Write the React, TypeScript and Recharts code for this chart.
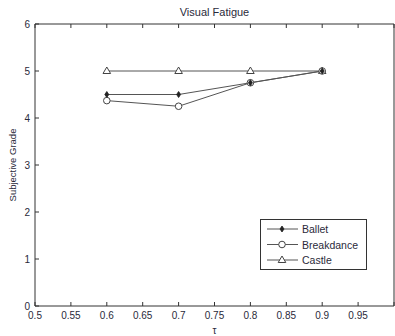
import React from "react";
import { LineChart, Line, XAxis, YAxis, Label } from "recharts";

const TAU = [0.6, 0.7, 0.8, 0.9];
const BALLET = [4.5, 4.5, 4.75, 5];
const BREAKDANCE = [4.37, 4.25, 4.75, 5];
const CASTLE = [5, 5, 5, 5];

const X_TICKS = [0.5, 0.55, 0.6, 0.65, 0.7, 0.75, 0.8, 0.85, 0.9, 0.95, 1];
const X_LABELS = ["0.5", "0.55", "0.6", "0.65", "0.7", "0.75", "0.8", "0.85", "0.9", "0.95", ""];
const Y_TICKS = [0, 1, 2, 3, 4, 5, 6];

const data = TAU.map((t, i) => ({
  tau: t,
  ballet: BALLET[i],
  breakdance: BREAKDANCE[i],
  castle: CASTLE[i],
}));

const FONT = "'Liberation Sans', Arial, sans-serif";
const TEXT = "#2a2a3a";
const AXIS = "#333";
const LINE = "#555";

const BottomTick = ({ x, y, payload }: any) => {
  const i = X_TICKS.indexOf(payload.value);
  return (
    <g>
      <line x1={x} y1={y} x2={x} y2={y - 4} stroke={AXIS} />
      <text x={x} y={y + 13} textAnchor="middle" fontSize={10} fill={TEXT} fontFamily={FONT}>
        {X_LABELS[i] ?? ""}
      </text>
    </g>
  );
};

const TopTick = ({ x, y }: any) => (
  <line x1={x} y1={y} x2={x} y2={y + 4} stroke={AXIS} />
);

const LeftTick = ({ x, y, payload }: any) => (
  <g>
    <line x1={x} y1={y} x2={x + 4} y2={y} stroke={AXIS} />
    <text x={x - 5} y={y + 4} textAnchor="end" fontSize={10} fill={TEXT} fontFamily={FONT}>
      {payload.value}
    </text>
  </g>
);

const RightTick = ({ x, y }: any) => (
  <line x1={x} y1={y} x2={x - 4} y2={y} stroke={AXIS} />
);

const Diamond = ({ cx, cy }: any) => {
  if (cx == null || cy == null) return null;
  return (
    <path
      d={`M${cx},${cy - 3}L${cx + 2},${cy}L${cx},${cy + 3}L${cx - 2},${cy}Z`}
      fill="#222"
      stroke="#222"
      strokeWidth={0.8}
    />
  );
};

const Circle = ({ cx, cy }: any) => {
  if (cx == null || cy == null) return null;
  return <circle cx={cx} cy={cy} r={3.3} fill="#fff" stroke="#444" strokeWidth={1} />;
};

const Triangle = ({ cx, cy }: any) => {
  if (cx == null || cy == null) return null;
  return (
    <path
      d={`M${cx},${cy - 4}L${cx + 3.8},${cy + 2.5}L${cx - 3.8},${cy + 2.5}Z`}
      fill="#fff"
      stroke="#444"
      strokeWidth={1}
    />
  );
};

const LEGEND_ITEMS = [
  { name: "Ballet", marker: Diamond },
  { name: "Breakdance", marker: Circle },
  { name: "Castle", marker: Triangle },
];

const LegendBox = () => (
  <svg width={107} height={51} style={{ display: "block" }}>
    <rect x={0.5} y={0.5} width={106} height={50} fill="#fff" stroke={AXIS} />
    {LEGEND_ITEMS.map((item, i) => {
      const cy = 10 + i * 15.5;
      const M = item.marker;
      return (
        <g key={item.name}>
          <line x1={7} y1={cy} x2={38} y2={cy} stroke={LINE} />
          <M cx={22} cy={cy} />
          <text x={42} y={cy + 4} fontSize={10.5} fill={TEXT} fontFamily={FONT}>
            {item.name}
          </text>
        </g>
      );
    })}
  </svg>
);

export default function App() {
  return (
    <div style={{ position: "fixed", left: 0, top: 0, width: 395, height: 336, background: "#fff" }}>
      <LineChart
        width={395}
        height={336}
        data={data}
        margin={{ top: 23, right: 0, bottom: 0, left: 0 }}
      >
        <XAxis
          xAxisId="bottom"
          dataKey="tau"
          type="number"
          domain={[0.5, 1]}
          ticks={X_TICKS}
          orientation="bottom"
          height={30}
          tickSize={0}
          tickMargin={0}
          tick={<BottomTick />}
          axisLine={{ stroke: AXIS }}
          interval={0}
        >
          <Label
            value="τ"
            position="insideBottom"
            offset={2}
            fontSize={10}
            fill={TEXT}
            fontFamily={FONT}
          />
        </XAxis>
        <XAxis
          xAxisId="top"
          dataKey="tau"
          type="number"
          domain={[0.5, 1]}
          ticks={X_TICKS}
          orientation="top"
          height={1}
          tickSize={0}
          tickMargin={0}
          tick={<TopTick />}
          axisLine={{ stroke: AXIS }}
          interval={0}
        >
          <Label
            value="Visual Fatigue"
            position="top"
            offset={7}
            fontSize={11}
            fill={TEXT}
            fontFamily={FONT}
          />
        </XAxis>
        <YAxis
          yAxisId="left"
          type="number"
          domain={[0, 6]}
          ticks={Y_TICKS}
          orientation="left"
          width={35}
          tickSize={0}
          tickMargin={0}
          tick={<LeftTick />}
          axisLine={{ stroke: AXIS }}
          interval={0}
        >
          <Label
            value="Subjective Grade"
            angle={-90}
            position="insideLeft"
            offset={13}
            style={{ textAnchor: "middle" }}
            fontSize={9.5}
            fill={TEXT}
            fontFamily={FONT}
          />
        </YAxis>
        <YAxis
          yAxisId="right"
          type="number"
          domain={[0, 6]}
          ticks={Y_TICKS}
          orientation="right"
          width={1}
          tickSize={0}
          tickMargin={0}
          tick={<RightTick />}
          axisLine={{ stroke: AXIS }}
          interval={0}
        />
        <Line
          xAxisId="bottom"
          yAxisId="left"
          dataKey="castle"
          name="Castle"
          stroke={LINE}
          strokeWidth={1}
          dot={<Triangle />}
          activeDot={false}
          isAnimationActive={false}
        />
        <Line
          xAxisId="bottom"
          yAxisId="left"
          dataKey="breakdance"
          name="Breakdance"
          stroke={LINE}
          strokeWidth={1}
          dot={<Circle />}
          activeDot={false}
          isAnimationActive={false}
        />
        <Line
          xAxisId="bottom"
          yAxisId="left"
          dataKey="ballet"
          name="Ballet"
          stroke={LINE}
          strokeWidth={1}
          dot={<Diamond />}
          activeDot={false}
          isAnimationActive={false}
        />
      </LineChart>
      <div style={{ position: "absolute", left: 260, top: 219 }}>
        <LegendBox />
      </div>
    </div>
  );
}
